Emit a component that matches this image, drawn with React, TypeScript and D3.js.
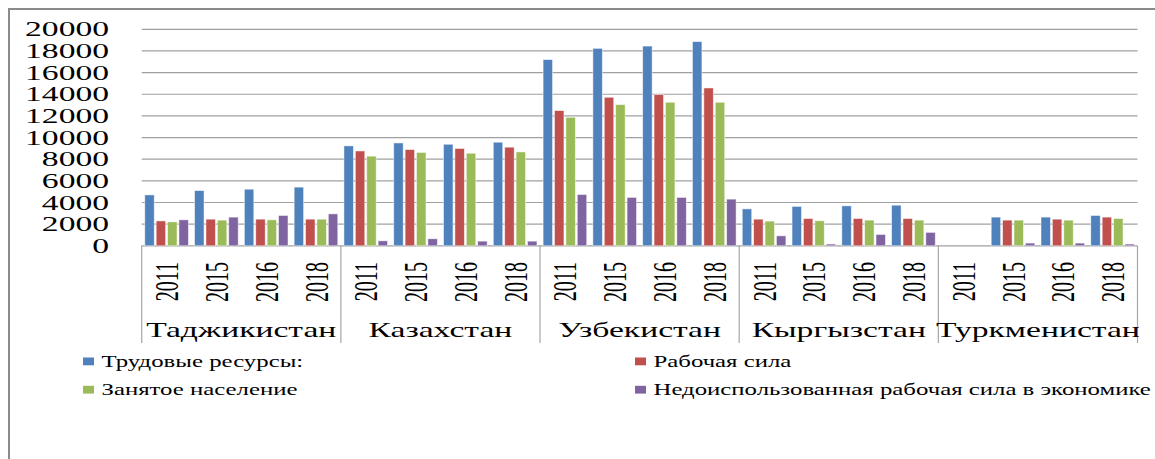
import * as d3 from "d3";

const countries = ["Таджикистан", "Казахстан", "Узбекистан", "Кыргызстан", "Туркменистан"];
const years = ["2011", "2015", "2016", "2018"];
const seriesNames = [
  "Трудовые ресурсы:",
  "Рабочая сила",
  "Занятое население",
  "Недоиспользованная рабочая сила в экономике",
];
const seriesColors = ["#4F81BD", "#C0504D", "#9BBB59", "#8064A2"];

// values per country, per year (2011, 2015, 2016, 2018)
const laborResources = [
  [4700, 5100, 5230, 5420],
  [9230, 9500, 9380, 9570],
  [17200, 18240, 18450, 18860],
  [3410, 3640, 3690, 3750],
  [0, 2650, 2650, 2800],
];
const laborForce = [
  [2300, 2460, 2460, 2460],
  [8760, 8890, 8990, 9110],
  [12490, 13720, 13970, 14580],
  [2460, 2520, 2520, 2520],
  [0, 2370, 2460, 2650],
];
const employed = [
  [2210, 2370, 2400, 2460],
  [8280, 8620, 8550, 8670],
  [11870, 13040, 13260, 13260],
  [2280, 2310, 2370, 2370],
  [0, 2370, 2370, 2520],
];
const underused = [
  [2400, 2650, 2800, 2950],
  [460, 650, 430, 430],
  [4740, 4470, 4470, 4310],
  [920, 160, 1050, 1240],
  [0, 250, 250, 160],
];
const yTicks = [0, 2000, 4000, 6000, 8000, 10000, 12000, 14000, 16000, 18000, 20000];

const width = 1155;
const height = 459;
const left = 141.7;
const right = 1137.5;
const top = 29.3;
const bottom = 245.8;
const sx = 1.6; // text in the picture is stretched horizontally
const font = "Liberation Serif, Tinos, DejaVu Serif, serif";
const txt = { fontFamily: font };

const seriesData = [laborResources, laborForce, employed, underused];

const App = () => {
  const cats = countries.flatMap((c) => years.map((y) => `${c}|${y}`));
  const x = d3.scaleBand().domain(cats).range([left, right]);
  const xs = d3
    .scaleBand()
    .domain(d3.range(4).map(String))
    .range([0, x.bandwidth()])
    .paddingInner(0.17)
    .paddingOuter(0.27);
  const y = d3.scaleLinear().domain([0, 20000]).range([bottom, top]);
  const groupW = x.bandwidth() * years.length;

  return (
    <div style={{ position: "fixed", left: 0, top: 0 }}>
      <svg width={width} height={height} style={{ display: "block", background: "#fff" }}>
        <rect x={9} y={9} width={1170} height={480} fill="none" stroke="#8a8a8a" strokeWidth={2} />

        {yTicks.map((t) => (
          <g key={t}>
            <line x1={left} x2={right} y1={y(t)} y2={y(t)} stroke="#a0a0a0" strokeWidth={1.2} />
            <text
              transform={`translate(109,${y(t)}) scale(${sx},1)`}
              textAnchor="end"
              dominantBaseline="central"
              style={txt}
              fontSize={21}
              fill="#000"
            >
              {t}
            </text>
          </g>
        ))}

        {countries.map((c, ci) =>
          years.map((yr, yi) => {
            const x0 = x(`${c}|${yr}`)!;
            return (
              <g key={`${c}${yr}`}>
                {seriesData.map((s, si) => {
                  const v = s[ci][yi];
                  if (!v) return null;
                  return (
                    <rect
                      key={si}
                      x={x0 + xs(String(si))!}
                      width={xs.bandwidth()}
                      y={y(v)}
                      height={y(0) - y(v)}
                      fill={seriesColors[si]}
                      stroke="#fff"
                      strokeOpacity={0.6}
                      strokeWidth={0.8}
                    />
                  );
                })}
                <text
                  transform={`translate(${x0 + x.bandwidth() / 2},262) scale(1.7,1) rotate(-90)`}
                  textAnchor="end"
                  dominantBaseline="central"
                  style={txt}
                  fontSize={20}
                  fill="#000"
                >
                  {yr}
                </text>
              </g>
            );
          })
        )}

        {d3.range(countries.length + 1).map((i) => (
          <line
            key={i}
            x1={left + i * groupW}
            x2={left + i * groupW}
            y1={bottom}
            y2={343}
            stroke="#a6a6a6"
            strokeWidth={1.2}
          />
        ))}

        {countries.map((c, i) => (
          <text
            key={c}
            transform={`translate(${left + i * groupW + groupW / 2},336.7) scale(${sx},1)`}
            textAnchor="middle"
            style={txt}
            fontSize={21}
            fill="#000"
          >
            {c}
          </text>
        ))}

        {seriesNames.map((n, i) => {
          const lx = i % 2 === 0 ? 83 : 635;
          const ly = i < 2 ? 357.5 : 385.8;
          return (
            <g key={n}>
              <rect x={lx} y={ly} width={11} height={7.8} fill={seriesColors[i]} />
              <text
                transform={`translate(${lx + 18.5},${ly + 9.5}) scale(1.55,1)`}
                style={txt}
                fontSize={16}
                fill="#000"
              >
                {n}
              </text>
            </g>
          );
        })}
      </svg>
    </div>
  );
};

export default App;
